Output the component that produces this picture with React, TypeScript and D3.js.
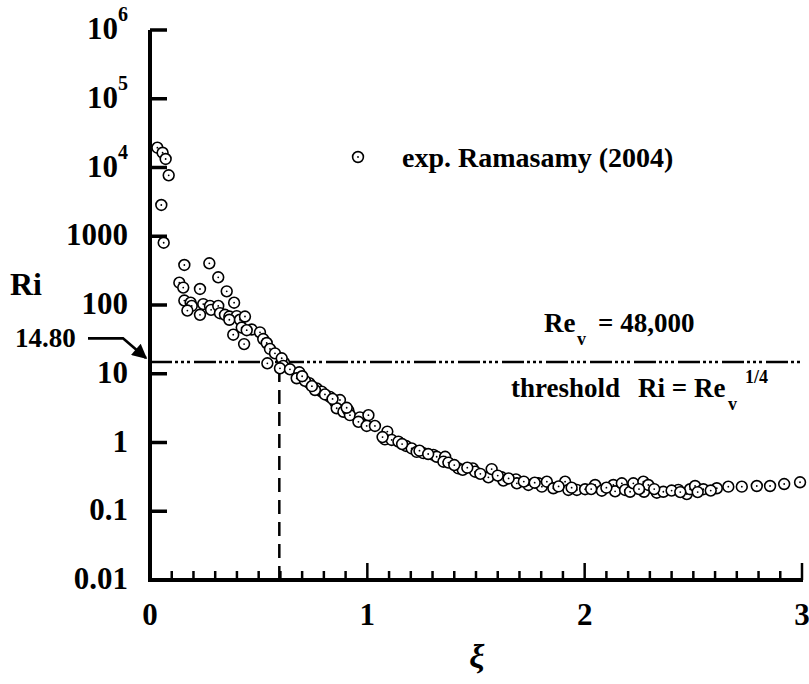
import React from "react";
import * as d3 from "d3";

// ---- data ----
const xiValues: number[] = [
  0.034, 0.058, 0.072, 0.086, 0.052, 0.063,
  0.158, 0.273, 0.314, 0.135, 0.153, 0.230, 0.353,
  0.158, 0.187, 0.192, 0.172, 0.230, 0.245, 0.276, 0.281, 0.314, 0.322, 0.387, 0.345, 0.365, 0.399, 0.365, 0.414, 0.437, 0.422, 0.383, 0.433, 0.468, 0.445, 0.506, 0.521, 0.537, 0.552, 0.575, 0.540, 0.617, 0.606,
  0.613, 0.598, 0.644, 0.687, 0.675, 0.733, 0.713, 0.767, 0.790, 0.759, 0.828, 0.851, 0.874, 0.859, 0.890, 0.913, 0.920, 0.966, 1.005, 0.959, 0.997, 1.035, 1.092, 1.081, 1.112, 1.143, 1.178, 1.204, 1.227, 1.258, 1.304, 1.319, 1.358,
  1.350, 1.373, 1.419, 1.439, 1.485, 1.496, 1.557, 1.572, 1.618, 1.626, 1.684, 1.688, 1.741, 1.787, 1.803, 1.826, 1.856, 1.910, 1.925, 1.964, 2.002, 2.048, 2.079, 2.132, 2.140, 2.171, 2.186,
  2.209, 2.224, 2.270, 2.273, 2.293, 2.332, 2.362, 2.431, 2.470, 2.485, 2.508, 2.546, 2.608, 2.661, 2.723, 2.792, 2.853, 2.918, 2.991,
  0.700, 0.745, 0.805, 0.840, 0.905, 1.070, 1.160, 1.240, 1.280, 1.400, 1.460, 1.520, 1.600, 1.650, 1.720, 1.770, 1.880, 1.940, 2.030, 2.100, 2.250, 2.320, 2.400, 2.440, 2.520, 2.580,
];
const riValues: number[] = [
  19400, 16400, 13300, 7700, 2850, 805,
  382, 404, 253, 211, 179, 171, 158,
  116, 108, 97, 83, 72, 103, 97, 85, 97, 76, 108, 72, 68, 69, 61, 61, 68, 47, 37, 27, 44, 43, 40, 32, 28, 23, 19.8, 14.2, 14.5, 16.8,
  13.0, 12.0, 11.6, 10.5, 8.6, 7.3, 7.9, 6.1, 5.5, 5.8, 4.6, 3.9, 4.15, 3.15, 2.8, 2.9, 2.5, 2.32, 2.5, 2.0, 1.74, 1.74, 1.44, 1.11, 1.09, 1.03, 0.89, 0.82, 0.73, 0.70, 0.66, 0.62, 0.62,
  0.526, 0.51, 0.42, 0.40, 0.42, 0.376, 0.312, 0.41, 0.312, 0.279, 0.29, 0.255, 0.241, 0.255, 0.228, 0.269, 0.216, 0.269, 0.204, 0.204, 0.209, 0.241, 0.199, 0.241, 0.195, 0.255, 0.204,
  0.192, 0.255, 0.269, 0.192, 0.241, 0.186, 0.192, 0.204, 0.178, 0.209, 0.233, 0.209, 0.216, 0.228, 0.228, 0.233, 0.233, 0.249, 0.264,
  9.2, 6.6, 5.0, 4.3, 3.2, 1.2, 0.95, 0.76, 0.68, 0.47, 0.43, 0.35, 0.33, 0.30, 0.27, 0.26, 0.23, 0.22, 0.21, 0.22, 0.21, 0.21, 0.20, 0.19, 0.19, 0.20,
];
const yTickValues: number[] = [0.01, 0.1, 1, 10, 100, 1000, 1e4, 1e5, 1e6];
const yTickLabels: { base: string; exp: string }[] = [
  { base: "0.01", exp: "" },
  { base: "0.1", exp: "" },
  { base: "1", exp: "" },
  { base: "10", exp: "" },
  { base: "100", exp: "" },
  { base: "1000", exp: "" },
  { base: "10", exp: "4" },
  { base: "10", exp: "5" },
  { base: "10", exp: "6" },
];
const xTickValues: number[] = [0, 1, 2, 3];
const thresholdRi = 14.8;
const thresholdXi = 0.595;
const legendLabel = "exp. Ramasamy (2004)";

const FONT = "'Liberation Serif', 'Times New Roman', serif";

export default function App() {
  const W = 809;
  const H = 684;
  const x = d3.scaleLinear().domain([0, 3]).range([150, 802]);
  const y = d3.scaleLog().domain([0.01, 1e6]).range([580, 30]);
  const minorX = d3.range(0, 31).map((i) => i / 10).filter((v) => Math.abs(v - Math.round(v)) > 1e-6);

  const points = xiValues.map((v, i) => ({ xi: v, ri: riValues[i] }));
  const yThr = y(thresholdRi);
  const R = 5.4;

  return (
    <svg
      width={W}
      height={H}
      style={{ position: "absolute", left: 0, top: 0, background: "#fff" }}
      fontFamily={FONT}
      fontWeight="bold"
    >
      <defs>
        <marker id="arrowHead" viewBox="0 0 10 10" refX="9" refY="5" markerWidth="7" markerHeight="5.5" orient="auto">
          <path d="M0,0 L10,5 L0,10 Z" fill="#000" />
        </marker>
      </defs>

      {/* threshold horizontal line */}
      <line
        x1={x(0)}
        x2={x(3)}
        y1={yThr}
        y2={yThr}
        stroke="#000"
        strokeWidth={2.5}
        strokeDasharray="22 3 3 3 3 3 3 4"
      />
      {/* vertical dashed line */}
      <line
        x1={x(thresholdXi)}
        x2={x(thresholdXi)}
        y1={y(0.01)}
        y2={yThr}
        stroke="#000"
        strokeWidth={2.5}
        strokeDasharray="14 8"
      />

      {/* data points */}
      {points.map((p, i) => (
        <g key={i} transform={`translate(${x(p.xi)},${y(p.ri)})`}>
          <circle r={R} fill="#fff" stroke="#000" strokeWidth={1.6} />
          <circle r={0.9} fill="#000" />
        </g>
      ))}

      {/* axes */}
      <line x1={x(0)} x2={x(0)} y1={y(1e6)} y2={y(0.01) + 2} stroke="#000" strokeWidth={4} />
      <line x1={x(0) - 2} x2={x(3) + 1} y1={y(0.01)} y2={y(0.01)} stroke="#000" strokeWidth={4} />
      {yTickValues.map((v) => (
        <line key={"yt" + v} x1={x(0)} x2={x(0) + 17} y1={y(v)} y2={y(v)} stroke="#000" strokeWidth={3.5} />
      ))}
      {xTickValues.map((v) => (
        <line key={"xt" + v} x1={x(v)} x2={x(v)} y1={y(0.01)} y2={y(0.01) - 17} stroke="#000" strokeWidth={2.5} />
      ))}
      {minorX.map((v) => (
        <line key={"xm" + v} x1={x(v)} x2={x(v)} y1={y(0.01)} y2={y(0.01) - 9} stroke="#000" strokeWidth={2.5} />
      ))}

      {/* y tick labels */}
      {yTickValues.map((v, i) => {
        const lab = yTickLabels[i];
        return (
          <text key={"yl" + v} x={128} y={y(v) + 9} textAnchor="end" fontSize={31}>
            {lab.base}
            {lab.exp && (
              <tspan dy={-18} fontSize={20}>
                {lab.exp}
              </tspan>
            )}
          </text>
        );
      })}
      {/* x tick labels */}
      {xTickValues.map((v) => (
        <text key={"xl" + v} x={x(v)} y={625} textAnchor="middle" fontSize={31}>
          {v}
        </text>
      ))}

      {/* axis titles */}
      <text x={10} y={295} fontSize={32}>Ri</text>
      <text x={477} y={668} textAnchor="middle" fontSize={34} fontStyle="italic">ξ</text>

      {/* 14.80 annotation */}
      <text x={15} y={347} fontSize={27}>14.80</text>
      <path
        d={`M88,338.3 L123,338.3 L${x(0) - 4},${yThr - 4}`}
        fill="none"
        stroke="#000"
        strokeWidth={2.7}
        markerEnd="url(#arrowHead)"
      />

      {/* legend */}
      <g transform="translate(358,157)">
        <circle r={R} fill="#fff" stroke="#000" strokeWidth={1.6} />
        <circle r={0.9} fill="#000" />
      </g>
      <text x={402} y={167} fontSize={28}>{legendLabel}</text>

      {/* Re_v = 48,000 */}
      <text x={544} y={332} fontSize={27}>Re</text>
      <text x={577} y={345} fontSize={18}>v</text>
      <text x={598} y={332} fontSize={27}>= 48,000</text>

      {/* threshold label */}
      <text x={511} y={397} fontSize={27}>threshold</text>
      <text x={638} y={397} fontSize={27}>Ri = Re</text>
      <text x={728} y={410} fontSize={18}>v</text>
      <text x={745} y={383} fontSize={18}>1/4</text>
    </svg>
  );
}
